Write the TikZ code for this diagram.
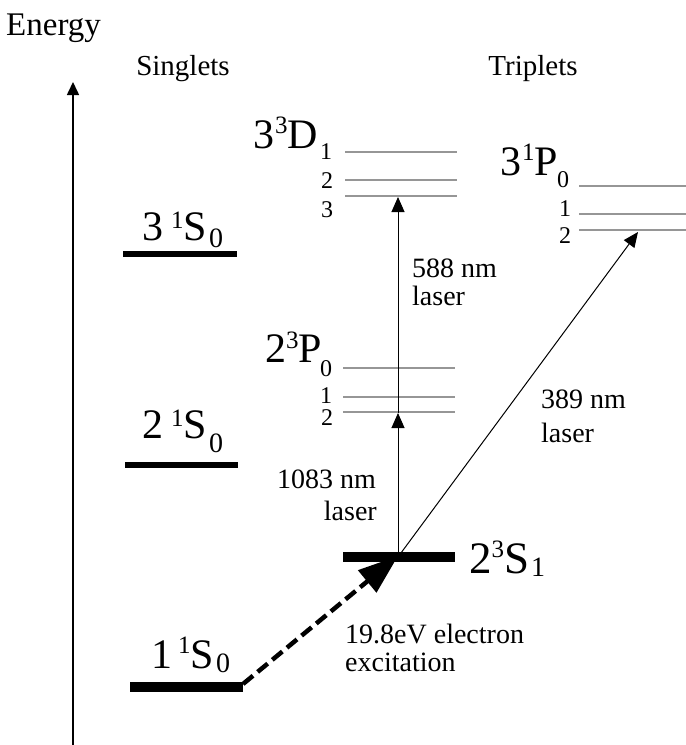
\documentclass[tikz,border=0pt]{standalone}
\usepackage{fontspec}
\setmainfont{Liberation Serif}
\usetikzlibrary{arrows.meta}
\definecolor{levgray}{RGB}{150,150,150}
\newcommand{\sps}[2][12pt]{\raisebox{#1}{\fontsize{25}{25}\selectfont #2}}
\newcommand{\sbs}[2][-7pt]{\raisebox{#1}{\fontsize{28}{28}\selectfont\hspace{2pt}#2}}
\begin{document}
\begin{tikzpicture}[x=1pt,y=-1pt,
  lvl/.style={line width=1.3pt, draw=levgray},
  bar/.style={line width=6pt},
  thickbar/.style={line width=10pt},
  lbl/.style={font=\fontsize{28}{28}\selectfont, inner sep=0pt},
  term/.style={font=\fontsize{42}{42}\selectfont, anchor=base west, inner sep=0pt},
  num/.style={font=\fontsize{24}{24}\selectfont, inner sep=0pt},
  laser/.style={line width=1pt, -{Triangle[length=15pt,width=13pt]}},
  excite/.style={line width=4.5pt, dash pattern=on 13pt off 6pt, -{Triangle[length=40pt,width=28pt]}},
  axis/.style={line width=1.6pt, -{Triangle[length=13pt,width=12pt]}}]
\useasboundingbox (0,0) rectangle (686,745);

% axis
\coordinate (axb) at (73,745);
\coordinate (axt) at (73,82);
\draw[axis] (axb) -- (axt);

% headings
\node[font=\fontsize{33}{33}\selectfont, anchor=base west, inner sep=0pt] (energy) at (6,35) {Energy};
\node[font=\fontsize{29}{29}\selectfont, anchor=base, inner sep=0pt] (singlets) at (183,75) {Singlets};
\node[font=\fontsize{29}{29}\selectfont, anchor=base, inner sep=0pt] (triplets) at (533,75) {Triplets};

% singlet levels
\coordinate (s31l) at (123,254); \coordinate (s31r) at (237,254);
\coordinate (s21l) at (125,465); \coordinate (s21r) at (238,465);
\coordinate (s11l) at (130,687); \coordinate (s11r) at (243,687);
\draw[bar] (s31l) -- (s31r);
\draw[bar] (s21l) -- (s21r);
\draw[thickbar] (s11l) -- (s11r);
\node[term] (t31s) at (142,240) {3\hspace{8pt}\sps{1}S\sbs[-7pt]{0}};
\node[term] (t21s) at (142,438) {2\hspace{8pt}\sps{1}S\sbs[-14pt]{0}};
\node[term] (t11s) at (151,668) {1\hspace{6pt}\sps[15pt]{1}S\sbs[-4pt]{0}};

% triplet 2^3S_1
\coordinate (s23l) at (343,557); \coordinate (s23r) at (455,557);
\draw[thickbar] (s23l) -- (s23r);
\node[term, font=\fontsize{45}{45}\selectfont] (t23s) at (469,573) {2\sps[16pt]{3}S\sbs[-3pt]{1}};

% 2^3P
\coordinate (p0l) at (343,368); \coordinate (p0r) at (455,368);
\coordinate (p1l) at (343,397); \coordinate (p1r) at (455,397);
\coordinate (p2l) at (343,412); \coordinate (p2r) at (455,412);
\draw[lvl] (p0l) -- (p0r);
\draw[lvl] (p1l) -- (p1r);
\draw[lvl] (p2l) -- (p2r);
\node[term] (t23p) at (265,362) {2\sps[14pt]{3}P};
\node[num] (np0) at (326,369) {0};
\node[num] (np1) at (326,396) {1};
\node[num] (np2) at (327,418) {2};

% 3^3D
\coordinate (d1l) at (345,152); \coordinate (d1r) at (457,152);
\coordinate (d2l) at (345,180); \coordinate (d2r) at (457,180);
\coordinate (d3l) at (345,196); \coordinate (d3r) at (457,196);
\draw[lvl] (d1l) -- (d1r);
\draw[lvl] (d2l) -- (d2r);
\draw[lvl] (d3l) -- (d3r);
\node[term] (t33d) at (253,148) {3\hspace{1pt}\sps[15pt]{3}D};
\node[num] (nd1) at (326,152) {1};
\node[num] (nd2) at (327,181) {2};
\node[num] (nd3) at (327,210) {3};

% 3^1P
\coordinate (q0l) at (579,186); \coordinate (q0r) at (686,186);
\coordinate (q1l) at (579,214); \coordinate (q1r) at (686,214);
\coordinate (q2l) at (579,230); \coordinate (q2r) at (686,230);
\draw[lvl] (q0l) -- (q0r);
\draw[lvl] (q1l) -- (q1r);
\draw[lvl] (q2l) -- (q2r);
\node[term] (t31p) at (500,175) {3\hspace{1pt}\sps[15pt]{1}P};
\node[num] (nq0) at (563,180) {0};
\node[num] (nq1) at (565,209) {1};
\node[num] (nq2) at (565,236) {2};

% transitions
\coordinate (S23c) at (398,557);
\coordinate (S23t) at (398,556);
\coordinate (P2c) at (398,413);
\coordinate (D3c) at (398,197);
\coordinate (Q2c) at (638,232);
\coordinate (S11e) at (243,684);
\draw[laser] (S23c) -- (P2c);
\draw[laser] (P2c) -- (D3c);
\draw[laser] (S23c) -- (Q2c);
\draw[excite] (S11e) -- (S23t);

% labels
\node[lbl, anchor=base west] (l588a) at (412,277) {588 nm};
\node[lbl, anchor=base west] (l588b) at (412,305) {laser};
\node[lbl, anchor=base east] (l1083a) at (376,488) {1083 nm};
\node[lbl, anchor=base east] (l1083b) at (377,520) {laser};
\node[lbl, anchor=base west] (l389a) at (541,408) {389 nm};
\node[lbl, anchor=base west] (l389b) at (541,442) {laser};
\node[lbl, anchor=base west] (lexa) at (345,643) {19.8eV electron};
\node[lbl, anchor=base west] (lexb) at (345,671) {excitation};
\end{tikzpicture}
\end{document}
